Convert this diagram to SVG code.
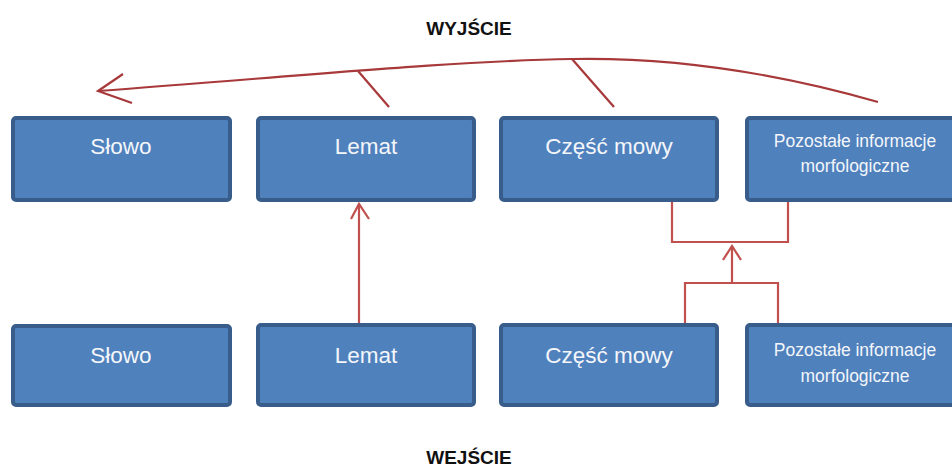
<svg xmlns="http://www.w3.org/2000/svg" width="952" height="467" viewBox="0 0 952 467">
<style>
.box{fill:#4f81bd;stroke:#385d8a;stroke-width:4}
.t{font-family:"Liberation Sans",Arial,sans-serif;font-size:22.5px;fill:#f4f6fa;text-anchor:middle}
.s{font-family:"Liberation Sans",Arial,sans-serif;font-size:17.5px;fill:#f4f6fa;text-anchor:middle}
.h{font-family:"Liberation Sans",Arial,sans-serif;font-size:19px;font-weight:bold;fill:#111;text-anchor:middle}
.c{fill:none;stroke:#c0504d;stroke-width:2.2}
.a{fill:none;stroke:#a8393a;stroke-width:2.2}
</style>
<rect width="952" height="467" fill="#fff"/>
<text class="h" x="469" y="35">WYJŚCIE</text>
<text class="h" x="469" y="464">WEJŚCIE</text>
<g id="connectors">
<path class="a" d="M878,102 C780,74 680,57 572,59 C450,61 300,76 98,91"/>
<path class="a" d="M123,74 L98,91 L132,103"/>
<path class="a" d="M358,71 L389,107"/>
<path class="a" d="M572,59 L614,107"/>
<path class="c" d="M359,323 V204"/>
<path class="c" d="M351,219 L359,204 L369,219"/>
<path class="c" d="M672,202 V242 H788 V202"/>
<path class="c" d="M685,323 V283 H778 V323"/>
<path class="c" d="M732,283 V246"/>
<path class="c" d="M723,260 L732,246 L741,260"/>
</g>
<g id="out-slowo"><rect class="box" x="13" y="118" width="217" height="82" rx="3"/><text class="t" x="121" y="154">Słowo</text></g>
<g id="out-lemat"><rect class="box" x="258" y="118" width="216" height="82" rx="3"/><text class="t" x="366" y="154">Lemat</text></g>
<g id="out-czesc"><rect class="box" x="501" y="118" width="216" height="82" rx="3"/><text class="t" x="609" y="154">Część mowy</text></g>
<g id="out-pozostale"><rect class="box" x="747" y="118" width="216" height="82" rx="3"/><text class="s" x="855" y="147">Pozostałe informacje</text><text class="s" x="855" y="172">morfologiczne</text></g>
<g id="in-slowo"><rect class="box" x="13" y="326" width="217" height="79" rx="3"/><text class="t" x="121" y="363">Słowo</text></g>
<g id="in-lemat"><rect class="box" x="258" y="325" width="216" height="80" rx="3"/><text class="t" x="366" y="363">Lemat</text></g>
<g id="in-czesc"><rect class="box" x="501" y="325" width="216" height="80" rx="3"/><text class="t" x="609" y="363">Część mowy</text></g>
<g id="in-pozostale"><rect class="box" x="747" y="325" width="216" height="80" rx="3"/><text class="s" x="855" y="356">Pozostałe informacje</text><text class="s" x="855" y="382">morfologiczne</text></g>
</svg>
